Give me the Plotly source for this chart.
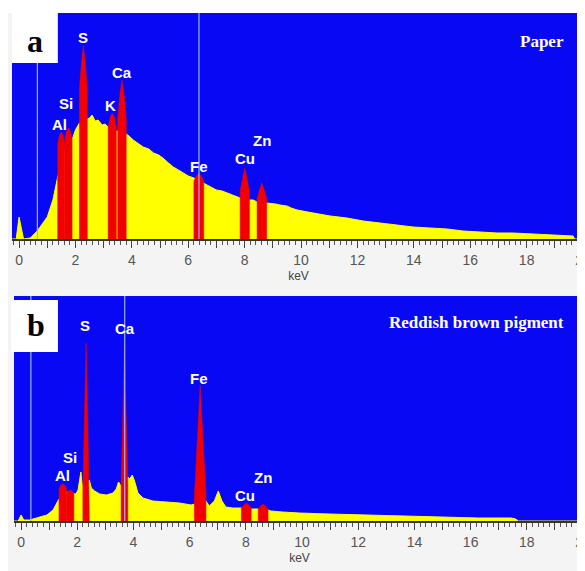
import plotly.graph_objects as go

# ---------------- data ----------------
# Panel a : Paper  (continuum spectrum, keV vs relative counts)
a_energy = [-0.25, -0.1, 0.0, 0.1, 0.16, 0.4, 0.67, 1.0, 1.2, 1.37, 1.62, 1.88, 2.0, 2.14,
            2.42, 2.5, 2.59, 2.7, 2.8, 2.95, 3.05, 3.16, 3.45, 3.5, 3.8, 3.9, 4.05, 4.2,
            4.4, 4.6, 4.77, 4.95, 5.1, 5.3, 5.47, 5.65, 5.83, 6.0, 6.2, 6.55, 6.65, 6.85,
            7.0, 7.2, 7.37, 7.55, 7.7, 7.84, 8.17, 8.3, 8.44, 8.78, 8.9, 9.1, 9.25, 9.5,
            9.65, 9.86, 10.43, 11.03, 11.63, 12.2, 12.8, 13.4, 13.97, 14.57, 15.18, 15.74,
            16.35, 16.95, 17.5, 18.1, 18.7, 19.5, 19.65, 19.7, 20.07]
a_counts = [0, 0, 22, 6, 0, 1, 9, 22, 39, 62, 90, 99, 109, 116,
            120, 121, 124, 118, 119, 114, 115, 112, 108, 108, 105, 103, 99, 96,
            92, 90, 86, 84, 81, 76, 72, 69, 66, 63, 61, 56, 54, 51,
            49, 48, 46, 44, 42, 41, 39, 39, 37, 36, 36, 35, 34, 33,
            31, 29, 26, 23, 21, 18, 16, 14, 12, 11, 10, 8,
            7, 6, 6, 5, 4, 3, 3, 0, 0]

# Panel a characteristic peaks
a_peak_names = ["Al", "Si", "S", "K", "Ca", "Fe", "Cu", "Zn"]
a_peak_lo = [1.37, 1.62, 2.14, 3.16, 3.50, 6.20, 7.84, 8.44]
a_peak_hi = [1.62, 1.88, 2.42, 3.45, 3.80, 6.55, 8.17, 8.78]
a_peak_top = [107, 111, 194, 126, 159, 66, 71, 56]
a_peak_edge = [95, 100, 150, 112, 120, 58, 48, 40]
a_peak_shoulder = [104, 108, 175, 122, 145, 63, 60, 49]
# label anchor (keV, counts)
a_label_x = [1.45, 1.67, 2.27, 3.26, 3.65, 6.38, 8.01, 8.62]
a_label_y = [115, 136, 202, 134, 167, 72, 80, 98]

# Panel b : Reddish brown pigment
b_energy = [-0.25, -0.1, 0.0, 0.1, 0.3, 0.57, 0.92, 1.14, 1.29, 1.35, 1.62, 1.88, 1.95,
            2.03, 2.13, 2.2, 2.43, 2.5, 2.62, 2.8, 3.04, 3.27, 3.39, 3.47, 3.52, 3.56,
            3.8, 3.86, 3.96, 4.04, 4.16, 4.34, 4.69, 5.17, 5.64, 6.05, 6.17, 6.58, 6.7,
            6.88, 7.02, 7.15, 7.29, 7.53, 7.79, 7.84, 8.19, 8.3, 8.44, 8.79, 8.89, 9.3,
            9.9, 10.96, 12.13, 13.33, 14.5, 15.1, 16.28, 17.45, 17.6, 17.7, 20.07]
b_counts = [0, 0, 6, 1, 1, 3, 6, 11, 18, 22, 29, 27, 27,
            31, 49, 30, 41, 33, 30, 27, 26, 28, 32, 39, 36, 35,
            44, 42, 46, 40, 28, 23, 20, 19, 18, 16, 17, 20, 15,
            20, 30, 20, 14, 13, 13, 13, 12, 12, 12, 11, 10, 9,
            8, 7, 6, 5, 4.5, 4, 3, 3, 2, 0, 0]

b_peak_names = ["Al", "Si", "S", "Ca", "Fe", "Cu", "Zn"]
b_peak_lo = [1.35, 1.62, 2.20, 3.56, 6.17, 7.84, 8.44]
b_peak_hi = [1.62, 1.88, 2.43, 3.80, 6.58, 8.19, 8.79]
b_peak_top = [37, 31, 178, 178, 136, 18, 17]
b_peak_edge = [32, 28, 30, 35, 26, 13, 12]
b_peak_shoulder = [36, 30, 105, 105, 80, 16, 15]
b_label_x = [1.49, 1.74, 2.27, 3.69, 6.35, 7.98, 8.62]
b_label_y = [46, 64, 196, 193, 143, 26, 44]

# cursor marker lines (keV)
a_markers = [0.65, 6.38]
b_markers = [0.35, 3.69]

tick_vals = list(range(0, 21))
tick_text = [str(v) if v % 2 == 0 else "" for v in tick_vals]

# ---------------- styling ----------------
BLUE = "#0808f4"
YELLOW = "#ffff00"
RED = "#f00000"
LABEL_FONT = "Liberation Sans Narrow, Liberation Sans, Arial, sans-serif"
SERIF = "Liberation Serif, Times New Roman, serif"

fig = go.Figure()


def add_panel(energy, counts, lo, hi, top, edge, shoulder, xa, ya):
    fig.add_trace(go.Scatter(x=energy, y=counts, mode="lines", fill="tozeroy",
                             fillcolor=YELLOW, line=dict(color=YELLOW, width=1),
                             xaxis=xa, yaxis=ya, hoverinfo="skip", showlegend=False))
    for l, h, t, e, s in zip(lo, hi, top, edge, shoulder):
        w = h - l
        c = (l + h) / 2
        xs = [l, l, l + 0.25 * w, c, h - 0.25 * w, h, h]
        ys = [0, e, s, t, s, e, 0]
        fig.add_trace(go.Scatter(x=xs, y=ys, mode="lines", fill="toself",
                                 fillcolor=RED, line=dict(color=RED, width=0.5),
                                 xaxis=xa, yaxis=ya, hoverinfo="skip", showlegend=False))


add_panel(a_energy, a_counts, a_peak_lo, a_peak_hi, a_peak_top, a_peak_edge,
          a_peak_shoulder, "x", "y")
add_panel(b_energy, b_counts, b_peak_lo, b_peak_hi, b_peak_top, b_peak_edge,
          b_peak_shoulder, "x2", "y2")

# marker lines
for m in a_markers:
    fig.add_shape(type="line", xref="x", yref="y domain", x0=m, x1=m, y0=0, y1=1,
                  line=dict(color="#9fb2ff", width=1.2), layer="above")
for m in b_markers:
    fig.add_shape(type="line", xref="x2", yref="y2 domain", x0=m, x1=m, y0=0, y1=1,
                  line=dict(color="#9fb2ff", width=1.2), layer="above")

# element labels
for n, x, y in zip(a_peak_names, a_label_x, a_label_y):
    fig.add_annotation(x=x, y=y, xref="x", yref="y", text=f"<b>{n}</b>", showarrow=False,
                       xanchor="center", yanchor="middle",
                       font=dict(family=LABEL_FONT, size=15, color="white"))
for n, x, y in zip(b_peak_names, b_label_x, b_label_y):
    fig.add_annotation(x=x, y=y, xref="x2", yref="y2", text=f"<b>{n}</b>", showarrow=False,
                       xanchor="center", yanchor="middle",
                       font=dict(family=LABEL_FONT, size=15, color="white"))

# panel boxes and titles
fig.add_shape(type="rect", xref="x domain", yref="y domain", x0=0, x1=0.08, y0=0.779, y1=1,
              fillcolor="white", line=dict(width=0), layer="above")
fig.add_shape(type="rect", xref="x2 domain", yref="y2 domain", x0=-0.005, x1=0.077,
              y0=0.751, y1=0.982, fillcolor="white", line=dict(width=0), layer="above")
fig.add_annotation(x=0.040, y=0.875, xref="x domain", yref="y domain", text="<b>a</b>",
                   xanchor="center", yanchor="middle", showarrow=False,
                   font=dict(family=SERIF, size=32, color="black"))
fig.add_annotation(x=0.038, y=0.87, xref="x2 domain", yref="y2 domain", text="<b>b</b>",
                   xanchor="center", yanchor="middle", showarrow=False,
                   font=dict(family=SERIF, size=32, color="black"))
fig.add_annotation(x=0.967, y=0.872, xref="x domain", yref="y domain", text="<b>Paper</b>",
                   xanchor="right", yanchor="middle", showarrow=False,
                   font=dict(family=SERIF, size=17, color="white"))
fig.add_annotation(x=0.967, y=0.884, xref="x2 domain", yref="y2 domain",
                   text="<b>Reddish brown pigment</b>", xanchor="right", yanchor="middle",
                   showarrow=False, font=dict(family=SERIF, size=17, color="white"))

# top white strip
fig.add_shape(type="rect", xref="paper", yref="paper", x0=-0.03, x1=1.01, y0=1, y1=1.03,
              fillcolor="white", line=dict(width=0))

xaxis_common = dict(range=[-0.25, 20.07], tickmode="array", tickvals=tick_vals,
                    ticktext=tick_text, ticks="outside", ticklen=7, tickwidth=1,
                    tickcolor="#444", showline=True, linecolor="#333", linewidth=1.5,
                    showgrid=False, zeroline=False, automargin=False,
                    ticklabeloverflow="allow",
                    minor=dict(dtick=0.2, ticks="outside", ticklen=4, tickcolor="#555",
                               showgrid=False),
                    tickfont=dict(family=LABEL_FONT, size=14, color="#555"),
                    title=dict(text="keV", standoff=5,
                               font=dict(family=LABEL_FONT, size=12, color="#444")))

# the page body adds an 8 px offset, so the figure is sized to end at the window edge
fig.update_layout(
    template="none",
    width=577, height=563,
    margin=dict(l=4, r=0, t=5, b=0, autoexpand=False),
    paper_bgcolor="#f4f4f4",
    plot_bgcolor=BLUE,
    showlegend=False,
    xaxis=dict(domain=[0, 1], anchor="y", **xaxis_common),
    yaxis=dict(domain=[0.595, 1], range=[0, 226], visible=False, fixedrange=True,
               automargin=False),
    xaxis2=dict(domain=[0.0035, 1], anchor="y2", **xaxis_common),
    yaxis2=dict(domain=[0.0896, 0.4928], range=[0, 225], visible=False, fixedrange=True,
                automargin=False),
)

fig.write_html("out.html")
